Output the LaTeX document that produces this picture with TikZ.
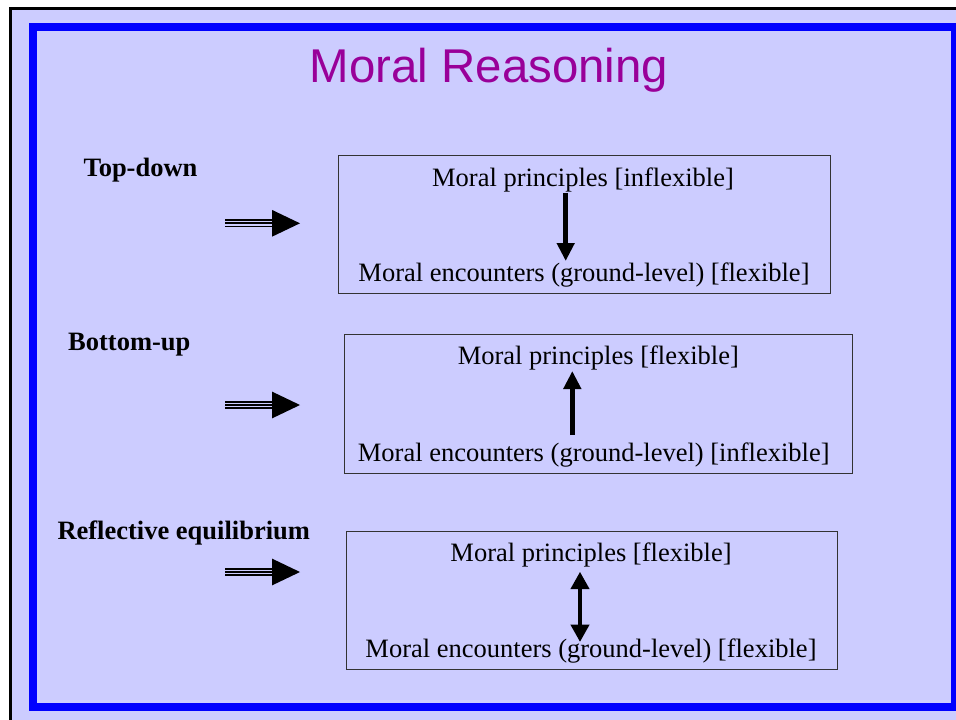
\documentclass[tikz,border=0pt]{standalone}
\usepackage{fontspec}
\setmainfont{Liberation Serif}
\newfontfamily\titlefont{Liberation Sans}
\usetikzlibrary{arrows.meta}
\definecolor{lavender}{HTML}{CCCCFF}
\definecolor{frameblue}{HTML}{0000FF}
\definecolor{titlepurple}{HTML}{990099}
\definecolor{panelline}{HTML}{333333}

\begin{document}
\begin{tikzpicture}[x=1pt,y=-1pt,
  body/.style={font=\fontsize{26.5}{30}\selectfont, inner sep=0pt, anchor=base},
  methodlabel/.style={font=\fontsize{26.5}{30}\selectfont\bfseries, inner sep=0pt, anchor=base west},
  panel/.style={draw=panelline, line width=1pt, inner sep=0pt},
  vert/.style={line width=4.5pt, -{Triangle[length=18pt,width=17pt]}},
  both/.style={line width=4.5pt, {Triangle[length=17.5pt,width=18pt]}-{Triangle[length=17.5pt,width=18pt]}},
  bigarrow/.pic={
    \fill[black] (47,-13.4) -- (75,0) -- (47,13.4) -- cycle;
    \foreach \dy in {-3.2,0,3.2} \draw[line width=1.9pt] (0,\dy) -- (48,\dy);
  }]
\useasboundingbox (0,0) rectangle (956,720);
\fill[white] (0,0) rectangle (956,720);
% slide background and frames
\draw[line width=3pt, fill=lavender] (10.5,8.5) rectangle (1000,780);
\draw[line width=8pt, frameblue] (33,27) rectangle (954.7,707);

% title
\node[anchor=base, inner sep=0pt, text=titlepurple, font=\titlefont\fontsize{47.4}{52}\selectfont] (title) at (489,82.3) {Moral Reasoning};

% method labels
\node[methodlabel] (lab1) at (83.3,176.7) {Top-down};
\node[methodlabel] (lab2) at (68,350) {Bottom-up};
\node[methodlabel] (lab3) at (57.3,539.3) {Reflective equilibrium};

% pointing arrows
\pic (da1) at (225,223.3) {bigarrow};
\pic (da2) at (225,405) {bigarrow};
\pic (da3) at (225,572) {bigarrow};

% panels
\node[panel, minimum width=492pt, minimum height=138.7pt] (box1) at (584,224.6) {};
\node[panel, minimum width=507.7pt, minimum height=139pt] (box2) at (598.8,403.8) {};
\node[panel, minimum width=491pt, minimum height=138pt] (box3) at (591.5,600) {};

% panel texts
\node[body] (p1) at (583,186) {Moral principles [inflexible]};
\node[body] (e1) at (584,281) {Moral encounters (ground-level) [flexible]};
\node[body] (p2) at (598.3,364) {Moral principles [flexible]};
\node[body] (e2) at (593.7,461.7) {Moral encounters (ground-level) [inflexible]};
\node[body] (p3) at (591,561) {Moral principles [flexible]};
\node[body] (e3) at (591,657) {Moral encounters (ground-level) [flexible]};

% arrow end points
\coordinate (a1s) at (565.7,193);
\coordinate (a1e) at (565.7,261);
\coordinate (a2s) at (572.3,435);
\coordinate (a2e) at (572.3,371);
\coordinate (a3s) at (580,571.7);
\coordinate (a3e) at (580,642);

\draw[vert] (a1s) -- (a1e);
\draw[vert] (a2s) -- (a2e);
\draw[both] (a3s) -- (a3e);
\end{tikzpicture}
\end{document}
